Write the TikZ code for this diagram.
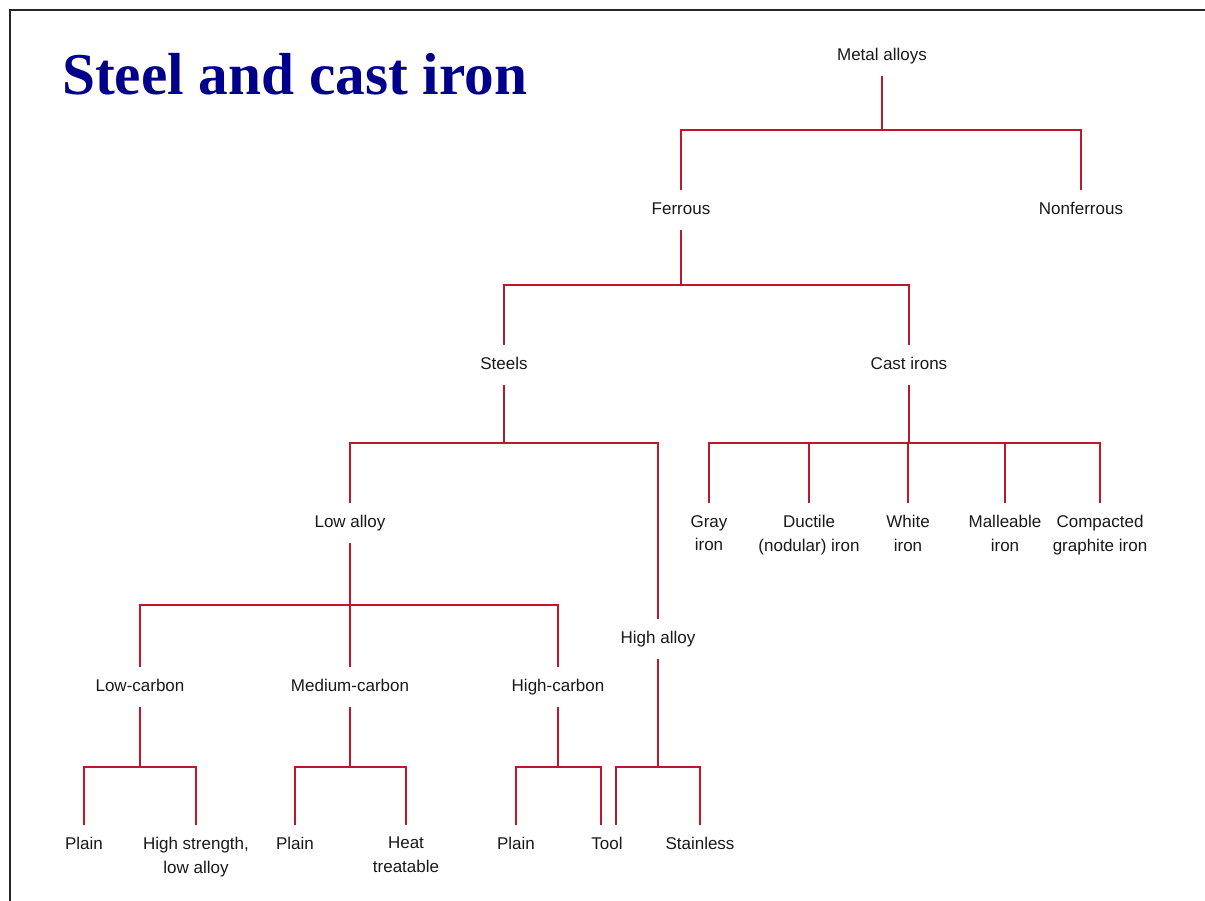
\documentclass[tikz,border=0pt]{standalone}
\usepackage{fontspec}
\setmainfont{Liberation Sans}
\newfontfamily\titlefont{Liberation Serif}
\definecolor{linkred}{RGB}{190,22,42}
\definecolor{titleblue}{RGB}{0,0,139}
\definecolor{labtext}{RGB}{25,25,25}
\begin{document}
\begin{tikzpicture}[x=1pt,y=-1pt,
  link/.style={draw=linkred,line width=2.6pt},
  lab/.style={anchor=north,inner xsep=1pt,inner ysep=12pt,text=labtext,font=\fontsize{17}{23.5}\selectfont,text height=12.3pt,text depth=3.6pt},
  labtwo/.style={anchor=north,inner xsep=1pt,inner ysep=12pt,text=labtext,font=\fontsize{17}{23.5}\selectfont,align=center},
  ]
\useasboundingbox (0,0) rectangle (1205,901);
\fill[white] (0,0) rectangle (1205,901);
\draw[line width=2.6pt, black!85] (1205,10) -- (10,10) -- (10,901);

\node[anchor=base west,inner sep=0,font=\titlefont\bfseries\fontsize{59.3}{60}\selectfont,text=titleblue] (title) at (62,95) {Steel and cast iron};

% bar levels
\coordinate (b1) at (0,130);
\coordinate (b2) at (0,285);
\coordinate (b3) at (0,443);
\coordinate (b4) at (0,605);
\coordinate (b5) at (0,767);

% nodes (anchor north = yc-18)
\node[lab] (ma) at (882,36) {Metal alloys};
\node[lab] (fe) at (681,190) {Ferrous};
\node[lab] (nf) at (1081,190) {Nonferrous};
\node[lab] (st) at (504,345) {Steels};
\node[lab] (ci) at (909,345) {Cast irons};
\node[lab] (la) at (350,503) {Low alloy};
\node[lab] (ha) at (658,619) {High alloy};
\node[labtwo] (gi) at (709,503) {Gray\\iron};
\node[labtwo] (di) at (809,503) {Ductile\\(nodular) iron};
\node[labtwo] (wi) at (908,503) {White\\iron};
\node[labtwo] (mi) at (1005,503) {Malleable\\iron};
\node[labtwo] (cg) at (1100,503) {Compacted\\graphite iron};
\node[lab] (lc) at (140,667) {Low-carbon};
\node[lab] (mc) at (350,667) {Medium-carbon};
\node[lab] (hc) at (558,667) {High-carbon};
\node[lab] (p1) at (84,825) {Plain};
\node[labtwo] (hs) at (196,825) {High strength,\\low alloy};
\node[lab] (p2) at (295,825) {Plain};
\node[labtwo] (ht) at (406,825) {Heat\\treatable};
\node[lab] (p3) at (516,825) {Plain};
\node[lab] (tool) at (607,825) {Tool};
\node[lab] (stn) at (700,825) {Stainless};

% connectors
\foreach \c in {fe,nf}
  \draw[link] (ma.south) -- (ma.south |- b1) -| (\c.north);
\foreach \c in {st,ci}
  \draw[link] (fe.south) -- (fe.south |- b2) -| (\c.north);
\foreach \c in {la,ha}
  \draw[link] (st.south) -- (st.south |- b3) -| (\c.north);
\foreach \c in {gi,di,wi,mi,cg}
  \draw[link] (ci.south) -- (ci.south |- b3) -| (\c.north);
\foreach \c in {lc,mc,hc}
  \draw[link] (la.south) -- (la.south |- b4) -| (\c.north);
\foreach \c in {p1,hs}
  \draw[link] (lc.south) -- (lc.south |- b5) -| (\c.north);
\foreach \c in {p2,ht}
  \draw[link] (mc.south) -- (mc.south |- b5) -| (\c.north);
\draw[link] (hc.south) -- (hc.south |- b5) -| (p3.north);
\draw[link] (hc.south) -- (hc.south |- b5) -| ([xshift=-6pt]tool.north);
\draw[link] (ha.south) -- (ha.south |- b5) -| ([xshift=9pt]tool.north);
\draw[link] (ha.south) -- (ha.south |- b5) -| (stn.north);
\end{tikzpicture}
\end{document}
